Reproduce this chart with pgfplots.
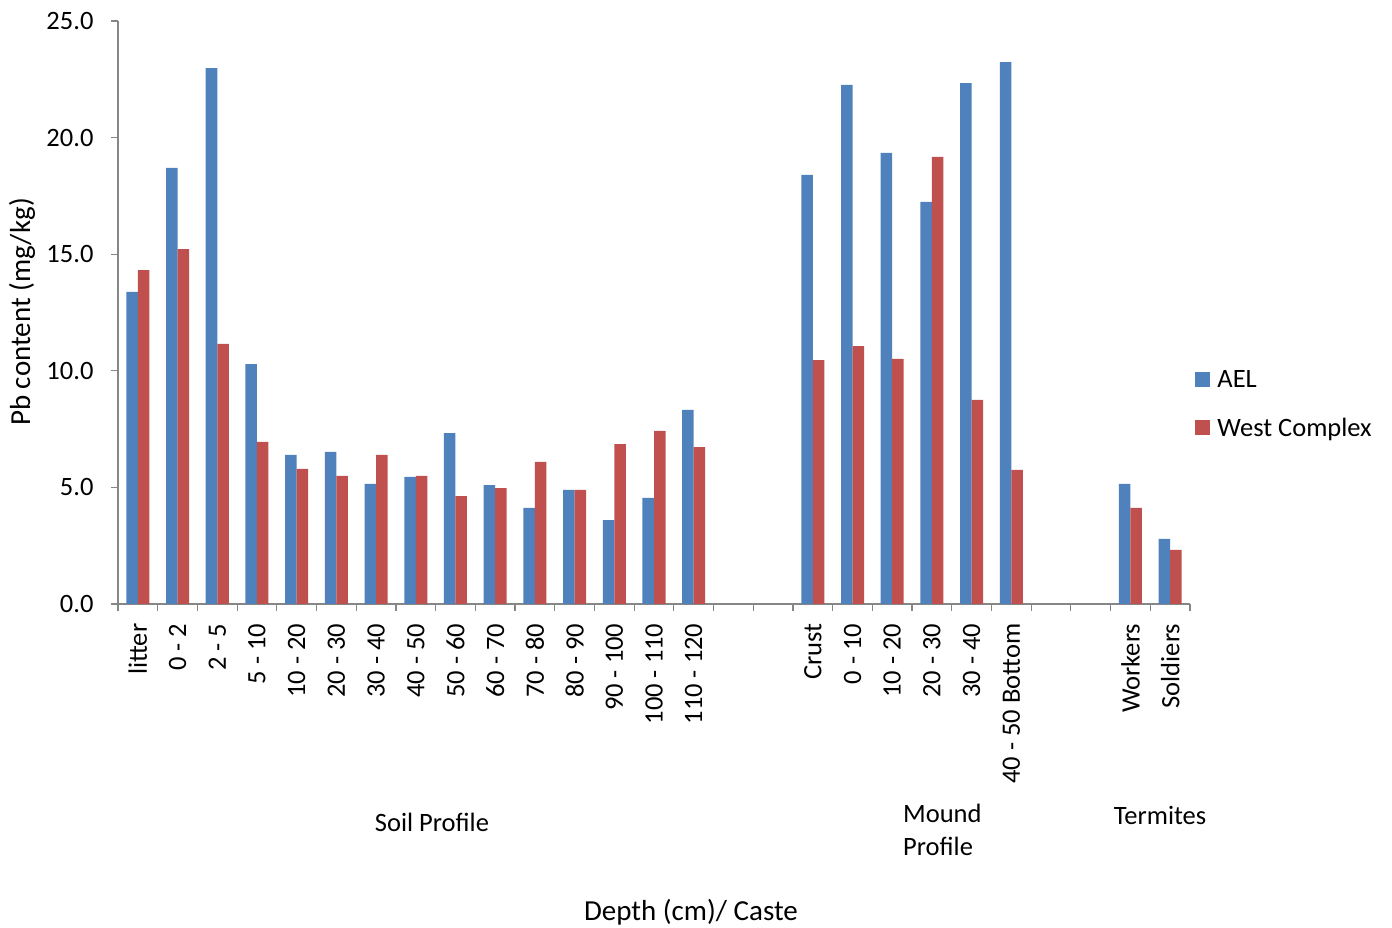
\documentclass[border=0pt]{standalone}
\usepackage{pgfplots}
\pgfplotsset{compat=1.18}
\usepackage{fontspec}
\setmainfont{Carlito}
\definecolor{aelblue}{HTML}{4F81BD}
\definecolor{westred}{HTML}{C0504D}
\definecolor{axgray}{HTML}{868686}
\begin{document}
\begin{tikzpicture}[x=1pt,y=1pt]
\path[use as bounding box] (0,0) rectangle (1392,928);
\begin{axis}[
  at={(118pt,324pt)}, anchor=south west,
  scale only axis, width=1072pt, height=583pt,
  xmin=-0.5, xmax=26.5, ymin=0, ymax=25,
  ybar=0pt, bar width=0.29,
  axis x line*=bottom, axis y line*=left,
  axis line style={axgray, line width=1.5pt, -},
  xtick={0,...,26},
  xticklabels={litter,0 - 2,2 - 5,5 - 10,10 - 20,20 - 30,30 - 40,40 - 50,50 - 60,60 - 70,70 - 80,80 - 90,90 - 100,100 - 110,110 - 120,,,Crust,0 - 10,10 - 20,20 - 30,30 - 40,40 - 50 Bottom,,,Workers,Soldiers},
  major x tick style={draw=none},
  minor xtick={-0.5,0.5,...,26.5},
  minor x tick style={axgray, line width=1.2pt},
  minor tick length=7pt,
  major tick length=7pt,
  tick align=outside,
  ytick={0,5,...,25},
  y tick style={axgray, line width=1.2pt},
  /pgf/number format/assume math mode=true,
  yticklabel={\pgfmathprintnumber[fixed,fixed zerofill,precision=1]{\tick}},
  ticklabel style={font=\fontsize{26.5}{32}\selectfont, text=black},
  xticklabel style={rotate=90, anchor=east, inner sep=12.5pt},
  yticklabel style={xshift=-14pt},
  legend style={at={(1.003,0.343)}, anchor=west, draw=none, fill=none,
    font=\fontsize{26.5}{32}\selectfont, row sep=25pt, column sep=5pt, inner sep=2pt},
  legend cell align=left,
  legend image code/.code={\fill[#1] (0pt,-7.5pt) rectangle (15pt,7.5pt);},
]
\addplot[fill=aelblue, draw=none] coordinates {(0,13.38)(1,18.70)(2,22.98)(3,10.29)(4,6.39)(5,6.52)(6,5.15)(7,5.45)(8,7.33)(9,5.10)(10,4.12)(11,4.89)(12,3.60)(13,4.55)(14,8.32)(17,18.40)(18,22.26)(19,19.34)(20,17.24)(21,22.34)(22,23.24)(25,5.15)(26,2.79)};
\addplot[fill=westred, draw=none] coordinates {(0,14.32)(1,15.22)(2,11.15)(3,6.95)(4,5.79)(5,5.49)(6,6.39)(7,5.49)(8,4.63)(9,4.97)(10,6.09)(11,4.89)(12,6.86)(13,7.42)(14,6.73)(17,10.46)(18,11.06)(19,10.51)(20,19.17)(21,8.75)(22,5.75)(25,4.12)(26,2.32)};
\legend{AEL,West Complex}
\end{axis}
\begin{scope}[font=\fontsize{26.5}{33}\selectfont]
\node at (432,106) {Soil Profile};
\node[anchor=west, align=left, inner sep=0pt] at (903,98.5) {Mound\\Profile};
\node at (1160,113) {Termites};
\node[font=\fontsize{29}{35}\selectfont] at (691,16) {Depth (cm)/ Caste};
\node[rotate=90, font=\fontsize{29}{35}\selectfont] at (22,616) {Pb content (mg/kg)};
\end{scope}
\end{tikzpicture}
\end{document}
